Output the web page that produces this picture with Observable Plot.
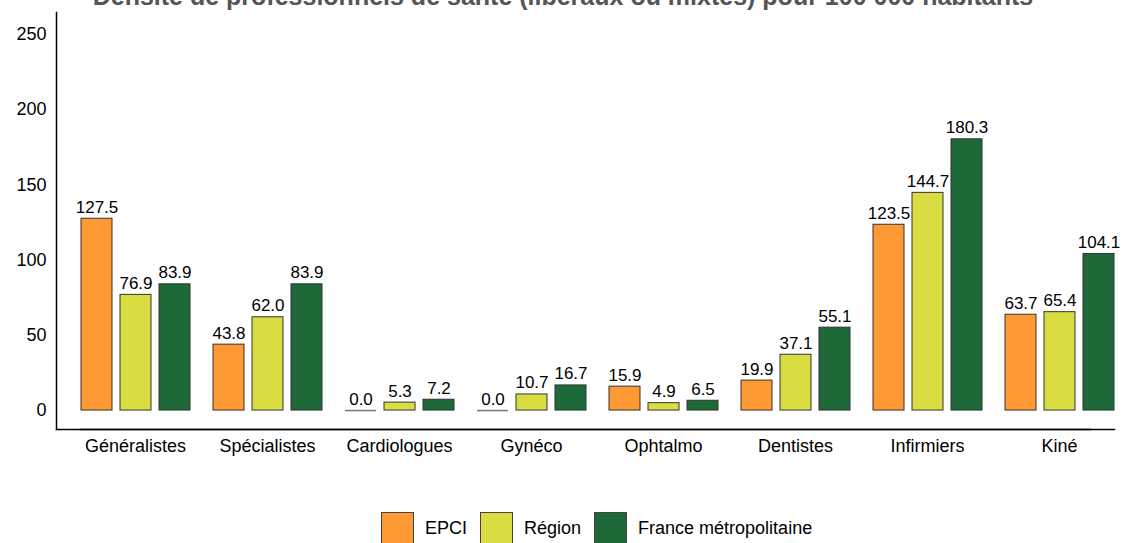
<!DOCTYPE html>
<html>
<head>
<meta charset="utf-8">
<script src="https://cdn.jsdelivr.net/npm/d3@7"></script>
<script src="https://cdn.jsdelivr.net/npm/@observablehq/plot@0.6"></script>
<style>
  body { margin: 0; background: #fff; font-family: "Liberation Sans", Arial, sans-serif; }
  #wrap { position: relative; width: 1126px; height: 543px; overflow: hidden; }
  #title { position: absolute; top: -16px; left: 0; width: 1126px; text-align: center;
           font-weight: bold; font-size: 25px; line-height: 25px; color: #555; white-space: nowrap; z-index: 2; }
  #chart { position: absolute; top: 0; left: 0; }
  #legend { position: absolute; top: 512px; left: 381px; display: flex; align-items: flex-start;
            font-size: 18px; color: #000; }
  .item { display: flex; align-items: center; margin-right: 13px; }
  .sw { width: 31px; height: 31px; border: 1px solid #444; margin-right: 11px; }
  .lab { line-height: 33px; }
</style>
</head>
<body>
<div id="wrap">
  <div id="chart"></div>
  <div id="title"></div>
  <div id="legend"></div>
</div>
<script>
const titleText = "Densité de professionnels de santé (libéraux ou mixtes) pour 100 000 habitants";
const categories = ["Généralistes", "Spécialistes", "Cardiologues", "Gynéco", "Ophtalmo", "Dentistes", "Infirmiers", "Kiné"];
const seriesNames = ["EPCI", "Région", "France métropolitaine"];
const seriesColors = ["#FF9933", "#D9DD42", "#1D6A38"];
const epci = [127.5, 43.8, 0.0, 0.0, 15.9, 19.9, 123.5, 63.7];
const region = [76.9, 62.0, 5.3, 10.7, 4.9, 37.1, 144.7, 65.4];
const france = [83.9, 83.9, 7.2, 16.7, 6.5, 55.1, 180.3, 104.1];
const yTicks = [0, 50, 100, 150, 200, 250];

const seriesValues = [epci, region, france];
const data = [];
categories.forEach((c, i) => {
  seriesNames.forEach((s, j) => data.push({category: c, series: s, value: seriesValues[j][i]}));
});

document.getElementById("title").textContent = titleText;

const chart = Plot.plot({
  width: 1126,
  height: 470,
  marginTop: 12,
  marginBottom: 41,
  marginLeft: 56,
  marginRight: 0,
  style: {fontFamily: "'Liberation Sans', Arial, sans-serif", fontSize: "18px", color: "#000", background: "#fff"},
  fx: {domain: categories, paddingInner: 0.1667, paddingOuter: 0.136, align: 0.667, label: null, axis: null},
  x: {domain: seriesNames, paddingInner: 0.215, paddingOuter: 0, axis: null},
  y: {domain: [-12.6, 264.6], axis: null},
  color: {domain: seriesNames, range: seriesColors},
  marks: [
    Plot.frame({anchor: "left", facet: "super", dx: -24, stroke: "#000", strokeWidth: 1.5}),
    Plot.frame({anchor: "bottom", facet: "super", dx: -24, stroke: "#000", strokeWidth: 1.5}),
    Plot.frame({anchor: "bottom", facet: "super", stroke: "#000", strokeWidth: 1.5}),
    Plot.axisY({ticks: yTicks, tickSize: 0, tickPadding: 10, dx: -24, fontSize: 18, label: null}),
    Plot.axisFx({anchor: "bottom", tickSize: 0, tickPadding: 10, fontSize: 18, label: null}),
    Plot.tickY(data.filter(d => d.value === 0), {fx: "category", x: "series", y: "value", stroke: "#777", strokeWidth: 1.5}),
    Plot.barY(data, {fx: "category", x: "series", y: "value", fill: "series", stroke: "#333", strokeWidth: 1}),
    Plot.text(data, {fx: "category", x: "series", y: "value", text: d => d.value.toFixed(1),
                     lineAnchor: "bottom", dy: -6, fontSize: 17, fill: "#000"})
  ]
});
document.getElementById("chart").appendChild(chart);

const legend = d3.select("#legend");
seriesNames.forEach((s, i) => {
  const it = legend.append("div").attr("class", "item");
  it.append("div").attr("class", "sw").style("background", seriesColors[i]);
  it.append("div").attr("class", "lab").text(s);
});
</script>
</body>
</html>
